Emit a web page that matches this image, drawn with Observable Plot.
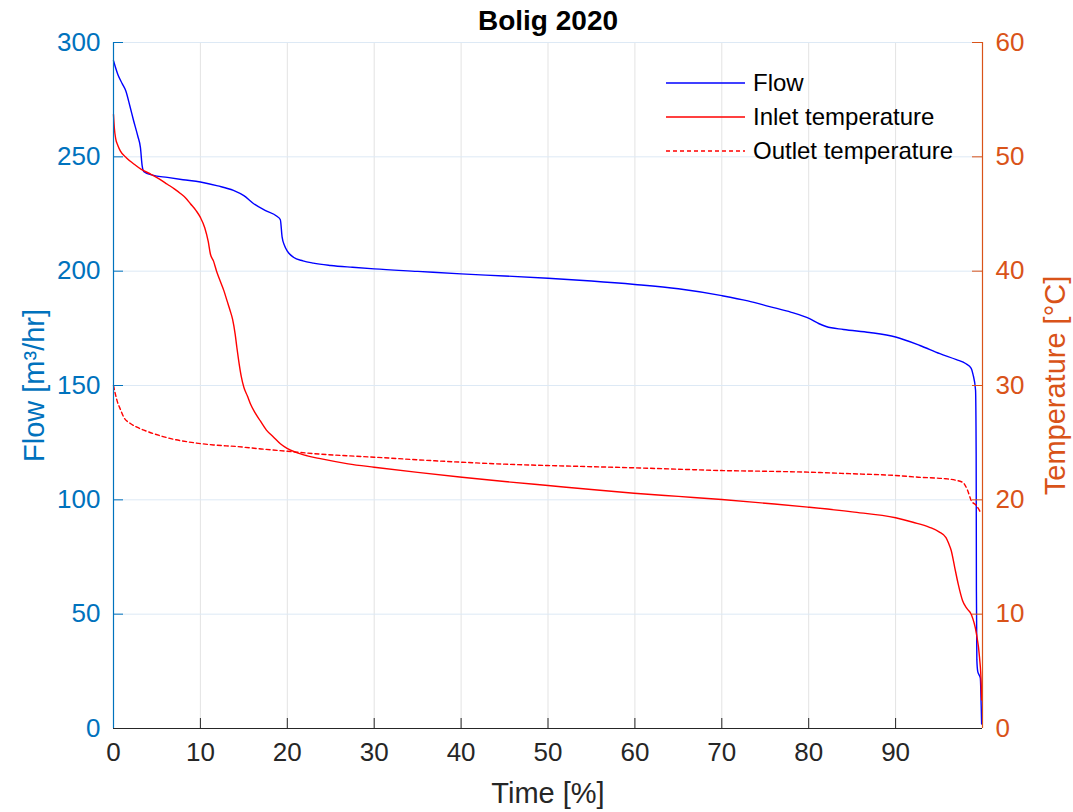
<!DOCTYPE html>
<html>
<head>
<meta charset="utf-8">
<script src="https://cdn.jsdelivr.net/npm/d3@7"></script>
<script src="https://cdn.jsdelivr.net/npm/@observablehq/plot@0.6"></script>
<style>
  html, body { margin: 0; padding: 0; background: #fff; }
  #wrap { position: relative; width: 1073px; height: 812px; font-family: "Liberation Sans", Arial, sans-serif; }
  #legend { position: absolute; left: 660px; top: 66px; font-size: 24px; color: #000; }
  #legend .row { display: flex; align-items: center; height: 34px; }
  #legend svg { width: 90px; height: 34px; margin-right: 3px; }
</style>
</head>
<body>
<div id="wrap"></div>
<script>
// ---- Data ----
const title = "Bolig 2020";
const xLabel = "Time [%]";
const yLeftLabel = "Flow [m³/hr]";
const yRightLabel = "Temperature [°C]";
const xTicks = [0, 10, 20, 30, 40, 50, 60, 70, 80, 90];
const flowTicks = [0, 50, 100, 150, 200, 250, 300];
const tempTicks = [0, 10, 20, 30, 40, 50, 60];
const tempToFlow = 5; // 60 °C on the right axis aligns with 300 m³/hr on the left

// Flow duration curve: [time %, flow m³/hr]
const flowTime = [0, 0.5, 1.0, 1.4, 1.9, 2.3, 2.8, 3.1, 3.3, 3.5, 4.5, 6.2, 8, 10, 12, 13.8, 15, 16.1, 17.5, 18.8, 19.2, 19.4, 19.7, 20.0, 20.7, 21.8, 23, 25, 27.5, 30, 35, 40, 45, 50, 55, 60, 65, 70, 73, 75.5, 78, 80.1, 81.2, 82, 84, 87, 90, 92.8, 95.1, 97, 98.1, 98.7, 98.9, 99.2, 99.27, 99.3, 99.35, 99.45, 99.6, 99.75, 99.85, 99.9];
const flowValue = [292, 286, 282, 279, 272, 266, 259, 254, 246, 243.5, 242, 241, 240, 239, 237.3, 235.3, 233, 229.6, 226.5, 224, 222.5, 215, 211, 208.8, 206.1, 204.5, 203.5, 202.5, 201.7, 201, 199.9, 198.8, 197.9, 196.9, 195.7, 194.2, 192.3, 189.3, 187, 184.5, 182, 179.2, 177, 175.8, 174.5, 173.2, 171.2, 167.5, 163.9, 161.3, 159.5, 157.5, 155, 148, 120, 60, 30, 25, 23.5, 22, 10, 2];

// Inlet temperature: [time %, °C]
const inletTime = [0, 0.1, 0.25, 0.5, 0.8, 1.5, 2.3, 3.2, 4.25, 5.2, 6.2, 7.0, 7.7, 8.3, 8.85, 9.5, 10, 10.5, 10.9, 11.15, 11.5, 11.9, 12.3, 12.7, 13.07, 13.4, 13.7, 14.0, 14.2, 14.4, 14.7, 15.0, 15.4, 15.75, 16.3, 16.9, 17.6, 18.4, 19.2, 19.97, 21, 22.3, 23.8, 27, 30, 35, 40.1, 45, 50, 55, 59.9, 65, 70, 75, 79.9, 85, 90, 92.0, 93.9, 95.0, 95.8, 96.1, 96.4, 96.8, 97.2, 97.7, 98.2, 98.7, 99.3, 99.66, 99.85, 99.9];
const inletValue = [53.7, 52.5, 51.6, 51.0, 50.5, 49.9, 49.4, 48.9, 48.5, 48.1, 47.6, 47.2, 46.8, 46.4, 45.9, 45.3, 44.7, 43.8, 42.6, 41.5, 40.9, 39.9, 39.1, 38.3, 37.4, 36.6, 35.8, 34.5, 33.3, 32.2, 30.8, 29.85, 29.1, 28.4, 27.6, 26.9, 26.1, 25.5, 24.9, 24.5, 24.15, 23.85, 23.6, 23.15, 22.85, 22.4, 21.98, 21.6, 21.25, 20.9, 20.58, 20.3, 20.03, 19.7, 19.36, 18.95, 18.43, 18.04, 17.6, 17.2, 16.7, 16.2, 15.57, 14.1, 12.65, 11.2, 10.5, 10.0, 8.3, 6.2, 3.9, 2.5];

// Outlet temperature: [time %, °C]
const outletTime = [0, 0.2, 0.4, 0.8, 1.2, 1.9, 2.7, 4, 5.4, 7.2, 9.2, 11.5, 14.2, 17, 20, 23.8, 27, 30, 35, 40.1, 45, 50, 55, 59.9, 65, 70, 75, 79.9, 85, 90, 92.6, 95.8, 97.7, 98.3, 98.7, 99.3, 99.85];
const outletValue = [30.0, 29.3, 28.7, 27.9, 27.2, 26.7, 26.35, 25.95, 25.6, 25.25, 25.0, 24.8, 24.66, 24.45, 24.25, 24.0, 23.85, 23.73, 23.5, 23.29, 23.12, 23.0, 22.9, 22.8, 22.68, 22.56, 22.5, 22.42, 22.28, 22.13, 21.98, 21.84, 21.54, 20.8, 19.94, 19.5, 18.78];

// ---- Build tables ----
const flow = flowTime.map((t, i) => ({t, v: flowValue[i]}));
const inlet = inletTime.map((t, i) => ({t, v: inletValue[i]}));
const outlet = outletTime.map((t, i) => ({t, v: outletValue[i]}));

const blue = "#0000ff", red = "#ff0000";
const leftColor = "#0072BD", rightColor = "#D95319", axisGrey = "#262626";
const W = 1073, H = 812, mL = 113, mR = 91, mT = 42, mB = 84;
const innerW = W - mL - mR, innerH = H - mT - mB;
const tickLen = 10;

const chart = Plot.plot({
  width: W, height: H,
  marginLeft: mL, marginRight: mR, marginTop: mT, marginBottom: mB,
  style: {fontFamily: "'Liberation Sans', Arial, sans-serif", background: "#fff"},
  x: {domain: [0, 100]},
  y: {domain: [0, 300]},
  marks: [
    Plot.gridX(xTicks.filter(d => d > 0), {stroke: "#e3e3e3", strokeOpacity: 1}),
    Plot.gridY(flowTicks.filter(d => d > 0), {stroke: "#dde9f5", strokeOpacity: 1}),
    Plot.line(flow, {x: "t", y: "v", stroke: blue, strokeWidth: 1.4, curve: "monotone-x"}),
    Plot.line(inlet, {x: "t", y: d => d.v * tempToFlow, stroke: red, strokeWidth: 1.4, curve: "monotone-x"}),
    Plot.line(outlet, {x: "t", y: d => d.v * tempToFlow, stroke: red, strokeWidth: 1.4, strokeDasharray: "4,3", curve: "monotone-x"}),
    // inward ticks
    Plot.tickX(xTicks.filter(d => d > 0), {x: d => d, insetTop: innerH - tickLen, stroke: axisGrey}),
    Plot.tickY(flowTicks, {y: d => d, insetRight: innerW - tickLen, stroke: leftColor}),
    Plot.tickY(tempTicks, {y: d => d * tempToFlow, insetLeft: innerW - tickLen, stroke: rightColor}),
    // axis lines
    Plot.ruleY([0], {stroke: axisGrey, strokeWidth: 1.2}),
    Plot.ruleX([0], {stroke: leftColor, strokeWidth: 1.2}),
    Plot.ruleX([100], {stroke: rightColor, strokeWidth: 1.2}),
    // axes labels
    Plot.axisX({ticks: xTicks, tickSize: 0, tickPadding: 14, fontSize: 26, color: axisGrey,
      label: xLabel, labelAnchor: "center", labelArrow: "none", labelOffset: 74}),
    Plot.axisY({ticks: flowTicks, tickSize: 0, tickPadding: 13, fontSize: 26, color: leftColor,
      label: yLeftLabel, labelAnchor: "center", labelArrow: "none", labelOffset: 90}),
    Plot.axisY({anchor: "right", ticks: tempTicks.map(d => d * tempToFlow), tickFormat: d => String(d / tempToFlow),
      tickSize: 0, tickPadding: 13, fontSize: 26, color: rightColor,
      label: yRightLabel, labelAnchor: "center", labelArrow: "none", labelOffset: 82}),
    Plot.text([title], {frameAnchor: "top", dy: -21, lineAnchor: "middle", fontSize: 28, fontWeight: "bold", fill: "#000"})
  ]
});
d3.select(chart).selectAll("[aria-label='x-axis label'] text, [aria-label='y-axis label'] text").attr("font-size", 29);
const wrap = document.getElementById("wrap");
wrap.appendChild(chart);

// Legend
const legendItems = [
  {label: "Flow", color: blue, dash: null},
  {label: "Inlet temperature", color: red, dash: null},
  {label: "Outlet temperature", color: red, dash: "4,3"}
];
const legend = document.createElement("div");
legend.id = "legend";
for (const it of legendItems) {
  const row = document.createElement("div");
  row.className = "row";
  row.innerHTML = `<svg viewBox="0 0 90 34"><line x1="6" x2="85" y1="17" y2="17" stroke="${it.color}" stroke-width="1.4" ${it.dash ? `stroke-dasharray="${it.dash}"` : ""}/></svg><span>${it.label}</span>`;
  legend.appendChild(row);
}
wrap.appendChild(legend);
</script>
</body>
</html>
